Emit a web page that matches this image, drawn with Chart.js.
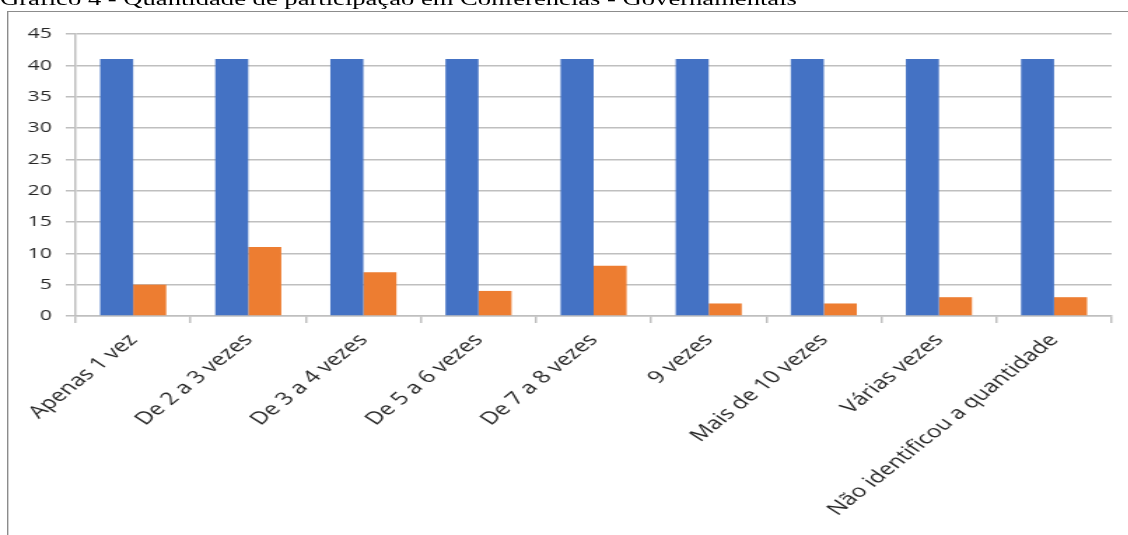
<!DOCTYPE html>
<html lang="pt-BR">
<head>
<meta charset="utf-8">
<title>Gráfico 4</title>
<script src="https://cdn.jsdelivr.net/npm/chart.js@4.4.1/dist/chart.umd.min.js"></script>
<style>
  html, body { margin: 0; padding: 0; background: #fff; overflow: hidden; }
  /* the whole figure is drawn narrow and stretched sideways, like the pasted image */
  #sheet {
    position: absolute; left: 0; top: 0;
    width: 806px; height: 535px;
    transform: scaleX(1.4); transform-origin: 0 0;
  }
  #titulo {
    position: absolute; left: 0; top: -11px;
    font: 19px "Liberation Serif", "Times New Roman", serif;
    line-height: 19px; color: #000; white-space: nowrap;
  }
  #moldura {
    position: absolute; left: 5px; top: 11px; right: -20px; bottom: -20px;
    border-top: 1px solid #8c8c8c; border-left: 1px solid #8c8c8c;
  }
  #box { position: absolute; left: 0; top: 0; width: 806px; height: 535px; }
</style>
</head>
<body>
<div id="sheet">
  <div id="titulo">Gráfico 4 - Quantidade de participação em Conferências - Governamentais</div>
  <div id="moldura"></div>
  <div id="box"><canvas id="grafico"></canvas></div>
</div>
<script>
// categorias e valores
const categorias = [
    'Apenas 1 vez',
    'De 2 a 3 vezes',
    'De 3 a 4 vezes',
    'De 5 a 6 vezes',
    'De 7 a 8 vezes',
    '9 vezes',
    'Mais de 10 vezes',
    'Várias vezes',
    'Não identificou a quantidade'
];
const totalRespostas = [41, 41, 41, 41, 41, 41, 41, 41, 41];
const participacoes = [5, 11, 7, 4, 8, 2, 2, 3, 3];
const ticksY = [0, 5, 10, 15, 20, 25, 30, 35, 40, 45];

const corGrade = '#bfbfbf';
const corTexto = '#262626';

const ctx = document.getElementById('grafico').getContext('2d');
const grafico = new Chart(ctx, {
    type: 'bar',
    data: {
        labels: categorias,
        datasets: [{
            label: 'Total de respostas',
            data: totalRespostas,
            backgroundColor: '#4472c4'
        }, {
            label: 'Participações',
            data: participacoes,
            backgroundColor: '#ed7d31'
        }]
    },
    options: {
        responsive: true,
        maintainAspectRatio: false,
        animation: false,
        devicePixelRatio: 1,
        layout: { padding: { top: 34, right: 12, bottom: 0, left: 0 } },
        plugins: {
            legend: { display: false },
            tooltip: { enabled: false }
        },
        datasets: {
            bar: { categoryPercentage: 0.574, barPercentage: 1 }
        },
        scales: {
            x: {
                grid: {
                    drawOnChartArea: false,
                    drawTicks: true,
                    tickLength: 7,
                    color: corGrade,
                    lineWidth: 1.5
                },
                border: { color: corGrade, width: 1.5 },
                ticks: {
                    autoSkip: false,
                    minRotation: 48,
                    maxRotation: 48,
                    padding: 7,
                    color: corTexto,
                    font: { family: '"Open Sans", sans-serif', size: 17.5 }
                },
                afterFit: function(scale) {
                    scale.height = 219;
                }
            },
            y: {
                min: 0,
                max: 45,
                afterBuildTicks: function(scale) {
                    scale.ticks = ticksY.map(function(v) { return { value: v }; });
                },
                grid: {
                    color: corGrade,
                    lineWidth: 1.5,
                    tickLength: 7
                },
                border: { color: corGrade, width: 1.5 },
                ticks: {
                    padding: 10,
                    color: corTexto,
                    font: { family: '"Open Sans", sans-serif', size: 15 }
                },
                afterFit: function(scale) {
                    scale.width = 54;
                }
            }
        }
    }
});
</script>
</body>
</html>
